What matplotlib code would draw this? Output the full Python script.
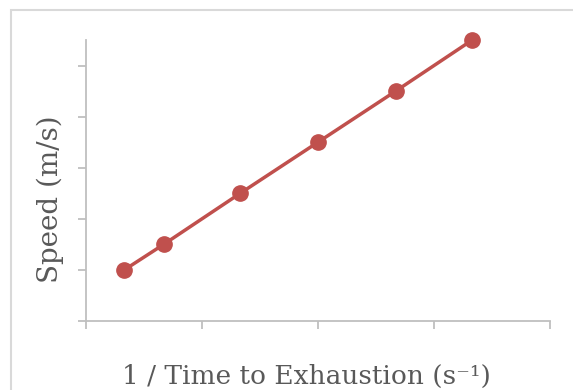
import matplotlib.pyplot as plt
from matplotlib.patches import Rectangle

# data (no tick labels shown, so units are arbitrary)
inv_time = [0.33, 0.67, 1.33, 2.0, 2.67, 3.33]
speed = [1.0, 1.5, 2.5, 3.5, 4.5, 5.5]
x_ticks = [0, 1, 2, 3, 4]
y_ticks = [0, 1, 2, 3, 4, 5]

fig = plt.figure(figsize=(5.73, 3.9), dpi=100)
ax = fig.add_axes([86 / 573, 1 - 321 / 390, 464 / 573, 281 / 390])

# outer frame of the chart area
fig.patches.append(Rectangle((11 / 573, -0.05), 1.2, 1 - 10 / 390 + 0.05,
                             transform=fig.transFigure, fill=False,
                             edgecolor='#D9D9D9', linewidth=1.5))

ax.plot(inv_time, speed, color='#C0504D', linewidth=2.5, marker='o',
        markersize=11, clip_on=False, zorder=3)

ax.set_xlim(0, 4)
ax.set_ylim(0, 5.5)
ax.set_xticks(x_ticks)
ax.set_yticks(y_ticks)
ax.set_xticklabels([])
ax.set_yticklabels([])
ax.tick_params(colors='#BFBFBF', length=6, width=1.3)

for side in ['top', 'right']:
    ax.spines[side].set_visible(False)
for side in ['left', 'bottom']:
    ax.spines[side].set_color('#BFBFBF')
    ax.spines[side].set_linewidth(1.3)

fig.text(306 / 573, 1 - 376 / 390, '1 / Time to Exhaustion (s\u207b\u00b9)',
         ha='center', va='center', fontsize=19, color='#595959',
         family='DejaVu Serif')
fig.text(50 / 573, 1 - 199 / 390, 'Speed (m/s)', rotation=90,
         ha='center', va='center', fontsize=20, color='#595959',
         family='DejaVu Serif')

fig.savefig('out.png', dpi=100)
